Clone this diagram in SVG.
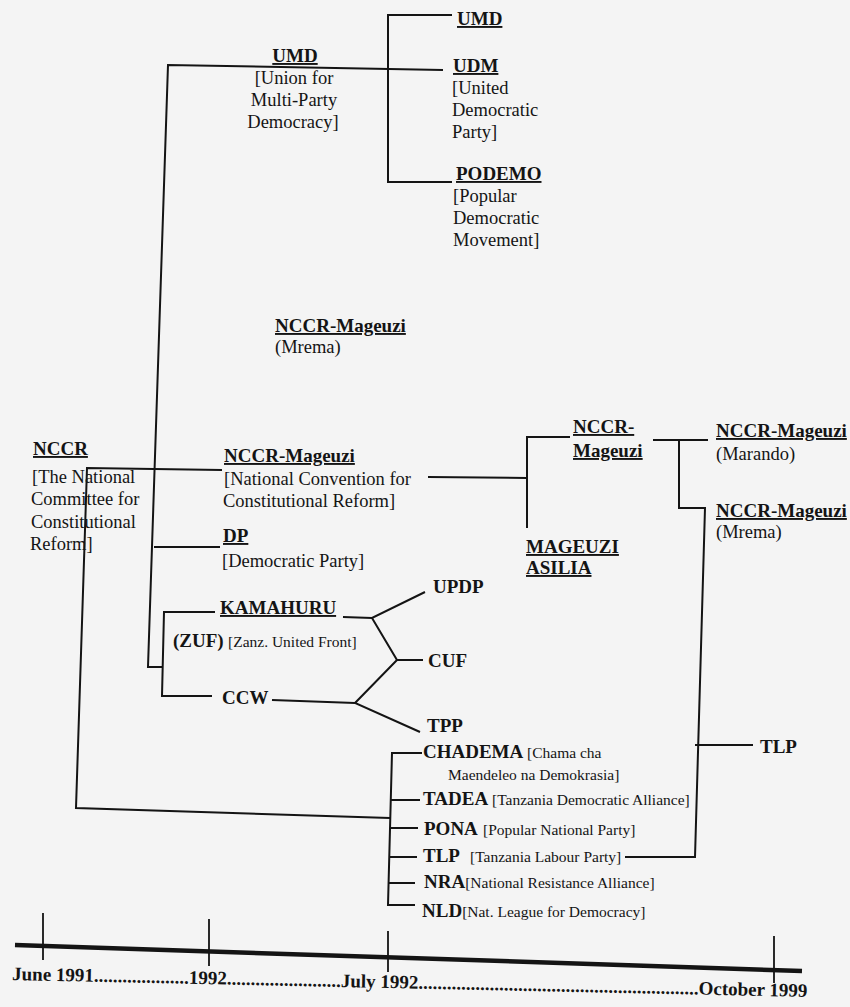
<svg xmlns="http://www.w3.org/2000/svg" width="850" height="1007" viewBox="0 0 850 1007">
<style>
text{font-family:"Liberation Serif","Times New Roman",serif;fill:#141414}
.b{font-size:19px;font-weight:bold}
.r{font-size:18.5px}
.s{font-size:15.5px}
.u{text-decoration:underline}
.c{fill:none;stroke:#141414;stroke-width:2;stroke-linejoin:miter}
.axis{fill:none;stroke:#141414;stroke-width:4.5}
.tick{fill:none;stroke:#141414;stroke-width:1.8}
</style>
<rect width="850" height="1007" fill="#f4f4f4"/>
<g id="connectors">
<path class="c" d="M222,470 L87,468 L76,808 L390,818"/>
<path class="c" d="M443,70 L168,65 L148,667 L163,667"/>
<path class="c" d="M154,547 L220,547"/>
<path class="c" d="M215,612 L164,612 L162,696 L212,696"/>
<path class="c" d="M452,15 L388,15 L388,182 L452,182"/>
<path class="c" d="M428,477 L527,478"/>
<path class="c" d="M570,437 L527,437 L527,528"/>
<path class="c" d="M653,440 L708,440"/>
<path class="c" d="M679,440 L679,508 L705,508 L695,857 L625,857"/>
<path class="c" d="M695,745 L753,745"/>
<path class="c" d="M343,617 L372,618 L425,592"/>
<path class="c" d="M372,618 L397,660 L423,660"/>
<path class="c" d="M397,660 L355,703 L420,732"/>
<path class="c" d="M272,700 L355,703"/>
<path class="c" d="M422,753 L392,753 L388,905 L415,905"/>
<path class="c" d="M391,800 L420,800 M390,828 L418,828 M389,857 L417,857 M389,883 L415,883"/>
</g>
<g id="umd-top"><text class="b u" x="457" y="25">UMD</text></g>
<g id="udm">
<text class="b u" x="453" y="72">UDM</text>
<text class="r" x="452" y="94">[United</text>
<text class="r" x="452" y="116">Democratic</text>
<text class="r" x="452" y="138">Party]</text>
</g>
<g id="podemo">
<text class="b u" x="456" y="180">PODEMO</text>
<text class="r" x="453" y="202">[Popular</text>
<text class="r" x="453" y="224">Democratic</text>
<text class="r" x="453" y="246">Movement]</text>
</g>
<g id="umd" text-anchor="middle">
<text class="b u" x="295" y="62">UMD</text>
<text class="r" x="294" y="84">[Union for</text>
<text class="r" x="294" y="106">Multi-Party</text>
<text class="r" x="293" y="128">Democracy]</text>
</g>
<g id="nccr-mageuzi-mrema-mid">
<text class="b u" x="275" y="332">NCCR-Mageuzi</text>
<text class="r" x="275" y="353">(Mrema)</text>
</g>
<g id="nccr">
<text class="b u" x="33" y="455">NCCR</text>
<text class="r" x="32" y="483">[The National</text>
<text class="r" x="31" y="505">Committee for</text>
<text class="r" x="31" y="528">Constitutional</text>
<text class="r" x="30" y="550">Reform]</text>
</g>
<g id="nccr-mageuzi">
<text class="b u" x="224" y="462">NCCR-Mageuzi</text>
<text class="r" x="224" y="485">[National Convention for</text>
<text class="r" x="223" y="507">Constitutional Reform]</text>
</g>
<g id="dp">
<text class="b u" x="223" y="542">DP</text>
<text class="r" x="222" y="567">[Democratic Party]</text>
</g>
<g id="kamahuru">
<text class="b u" x="220" y="614">KAMAHURU</text>
<text class="b" x="173" y="647">(ZUF)</text>
<text class="s" x="228" y="647">[Zanz. United Front]</text>
</g>
<g id="ccw"><text class="b" x="222" y="704">CCW</text></g>
<g id="updp"><text class="b" x="433" y="593">UPDP</text></g>
<g id="cuf"><text class="b" x="428" y="667">CUF</text></g>
<g id="tpp"><text class="b" x="427" y="732">TPP</text></g>
<g id="nccr-mageuzi-split">
<text class="b u" x="573" y="433">NCCR-</text>
<text class="b u" x="573" y="457">Mageuzi</text>
</g>
<g id="mageuzi-asilia">
<text class="b u" x="526" y="553">MAGEUZI</text>
<text class="b u" x="526" y="574">ASILIA</text>
</g>
<g id="nccr-mageuzi-marando">
<text class="b u" x="716" y="437">NCCR-Mageuzi</text>
<text class="r" x="716" y="460">(Marando)</text>
</g>
<g id="nccr-mageuzi-mrema">
<text class="b u" x="716" y="517">NCCR-Mageuzi</text>
<text class="r" x="716" y="538">(Mrema)</text>
</g>
<g id="tlp-right"><text class="b" x="760" y="753">TLP</text></g>
<g id="chadema">
<text class="b" x="423" y="758">CHADEMA</text>
<text class="s" x="527" y="758">[Chama cha</text>
<text class="s" x="448" y="780">Maendeleo na Demokrasia]</text>
</g>
<g id="tadea">
<text class="b" x="423" y="805">TADEA</text>
<text class="s" x="492" y="805">[Tanzania Democratic Alliance]</text>
</g>
<g id="pona">
<text class="b" x="424" y="835">PONA</text>
<text class="s" x="483" y="835">[Popular National Party]</text>
</g>
<g id="tlp">
<text class="b" x="423" y="862">TLP</text>
<text class="s" x="470" y="862">[Tanzania Labour Party]</text>
</g>
<g id="nra">
<text class="b" x="424" y="888">NRA<tspan class="s" font-weight="normal">[National Resistance Alliance]</tspan></text>
</g>
<g id="nld">
<text class="b" x="422" y="917" font-size="17.5">NLD<tspan class="s" font-weight="normal">[Nat. League for Democracy]</tspan></text>
</g>
<g id="timeline">
<path class="axis" d="M15,945 L802,971"/>
<path class="tick" d="M43,913 L43,960 M209,919 L209,966 M388,931 L388,972 M774,936 L774,983"/>
<text class="b" x="12" y="980" transform="rotate(1.22 12 980)">June 1991....................1992........................July 1992...........................................................October 1999</text>
</g>
</svg>
